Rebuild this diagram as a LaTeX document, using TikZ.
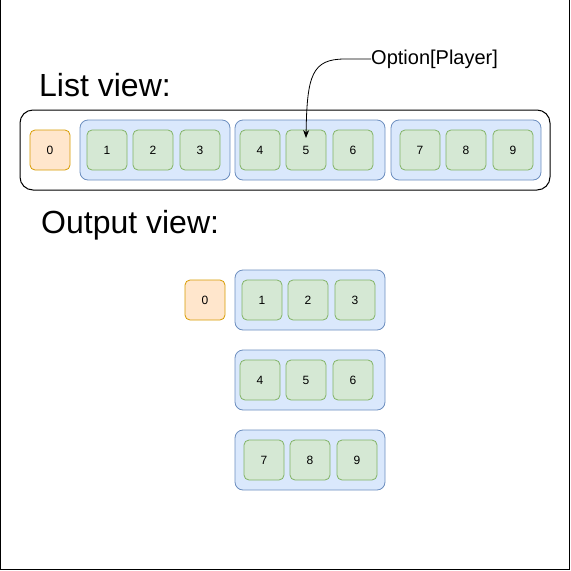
\documentclass[tikz,border=0pt]{standalone}
\usepackage{fontspec}
\setmainfont{Liberation Sans}
\usetikzlibrary{arrows.meta}
\definecolor{orfill}{HTML}{FFE6CC}
\definecolor{ordraw}{HTML}{D79B00}
\definecolor{grfill}{HTML}{D5E8D4}
\definecolor{grdraw}{HTML}{82B366}
\definecolor{blfill}{HTML}{DAE8FC}
\definecolor{bldraw}{HTML}{6C8EBF}
\tikzset{
  box/.style={rectangle, rounded corners=5pt, minimum width=40pt, minimum height=40pt, inner sep=0pt, font=\fontsize{12}{14}\selectfont, line width=0.8pt},
  zerobox/.style={box, fill=orfill, draw=ordraw},
  itembox/.style={box, fill=grfill, draw=grdraw},
  groupbox/.style={rectangle, rounded corners=8pt, minimum width=150pt, minimum height=60pt, inner sep=0pt, fill=blfill, draw=bldraw, line width=0.8pt},
  listbox/.style={rectangle, rounded corners=13pt, minimum width=530pt, minimum height=80pt, inner sep=0pt, draw=black, line width=1pt},
  title/.style={anchor=west, inner sep=0pt, font=\fontsize{32}{36}\selectfont},
  lbl/.style={anchor=west, inner sep=0pt, font=\fontsize{20}{24}\selectfont}
}
\begin{document}
\begin{tikzpicture}[x=1pt, y=-1pt]
\useasboundingbox (0,0) rectangle (571,571);
\draw[line width=1pt] (0.5,0) -- (0.5,569.5) -- (569.5,569.5) -- (569.5,0);

\node[title] (t1) at (39,85) {List view:};
\node[title] (t2) at (41,225) {Output view:};

% list view
\node[listbox] (list) at (285,150) {};
\node[zerobox] (l0) at (50,150) {0};
\node[groupbox] (lg1) at (155,150) {};
\node[groupbox] (lg2) at (310,150) {};
\node[groupbox] (lg3) at (466,150) {};
\node[itembox] (l1) at (107,150) {1};
\node[itembox] (l2) at (153,150) {2};
\node[itembox] (l3) at (200,150) {3};
\node[itembox] (l4) at (260,150) {4};
\node[itembox] (l5) at (306,150) {5};
\node[itembox] (l6) at (353,150) {6};
\node[itembox] (l7) at (420,150) {7};
\node[itembox] (l8) at (466,150) {8};
\node[itembox] (l9) at (513,150) {9};

\node[lbl] (opt) at (371,59) {Option[Player]};
\coordinate (tip) at (306,138);
\draw[line width=0.8pt, -{Stealth[length=8pt,width=6pt]}] (opt.west) -- (345,59) .. controls (312,59) and (307,75) .. (tip);

% output view
\node[zerobox] (o0) at (205,300) {0};
\node[groupbox] (og1) at (310,300) {};
\node[groupbox] (og2) at (310,380) {};
\node[groupbox] (og3) at (310,460) {};
\node[itembox] (o1) at (262,300) {1};
\node[itembox] (o2) at (308,300) {2};
\node[itembox] (o3) at (355,300) {3};
\node[itembox] (o4) at (260,380) {4};
\node[itembox] (o5) at (306,380) {5};
\node[itembox] (o6) at (353,380) {6};
\node[itembox] (o7) at (264,460) {7};
\node[itembox] (o8) at (310,460) {8};
\node[itembox] (o9) at (357,460) {9};
\end{tikzpicture}
\end{document}
